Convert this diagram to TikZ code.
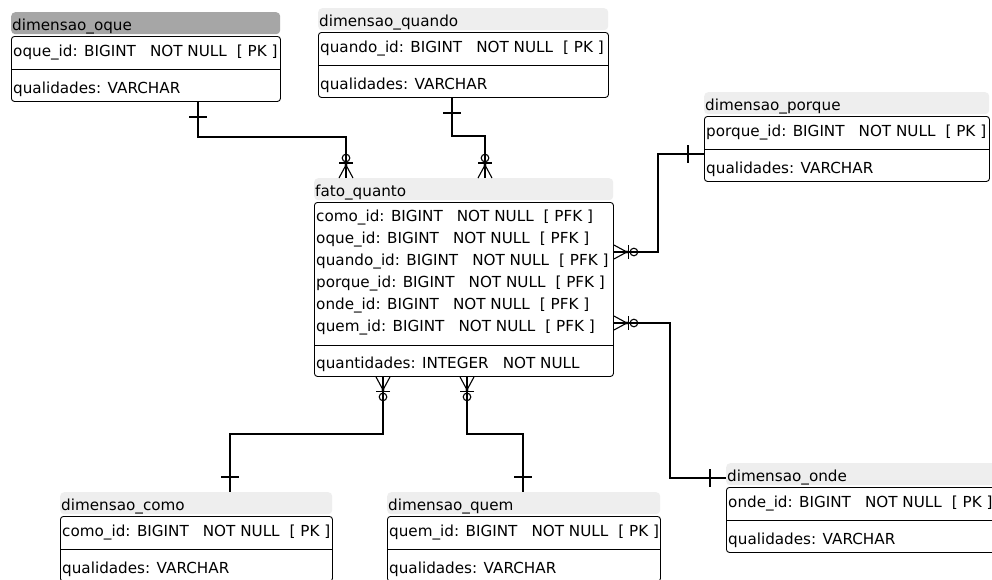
\documentclass[tikz,border=0pt]{standalone}
\usepackage{fontspec}
\setmainfont{DejaVu Sans}
\definecolor{hdrlight}{RGB}{238,238,238}
\definecolor{hdrdark}{RGB}{166,166,166}
\newcommand\rowfont{\fontsize{15.2}{18}\selectfont}
\newcommand\gapA{\hspace{14pt}}
\newcommand\gapB{\hspace{10pt}}
\tikzset{
  hdr/.style={anchor=north west, rounded corners=4pt, minimum height=22pt, inner sep=0pt},
  bodybox/.style={anchor=north west, draw=black, line width=0.9pt, rounded corners=3pt, inner sep=0pt},
  sepline/.style={draw=black, line width=0.9pt},
  txt/.style={anchor=base west, inner sep=0pt, font=\rowfont},
  conn/.style={draw=black, line width=1.1pt},
  tick/.style={draw=black, line width=1.1pt},
  pics/zmany/.style={code={
    \draw[conn] (0,-7) -- (13,0) -- (0,7);
    \fill (13,0) circle (1.6pt);
    \draw[conn] (15,-7) -- (15,7);
    \draw[conn] (20,0) circle (3.8pt);
  }},
}
\newcommand\dimtable[7]{%
  \node[hdr, fill=#7, minimum width=#4pt] (#1H) at (#2,#3) {};
  \node[txt] (#1T) at (#2+1,#3+18) {#5};
  \node[bodybox, minimum width=#4pt, minimum height=65pt] (#1B) at (#2,#3+24) {};
  \path[sepline] ([yshift=-33pt]#1B.north west) -- ([yshift=-33pt]#1B.north east);
  \node[txt] (#1K) at (#2+2,#3+44) {#6};
  \node[txt] (#1Q) at (#2+2,#3+81) {qualidades: VARCHAR};
}
\begin{document}
\begin{tikzpicture}[x=1pt,y=-1pt]
\useasboundingbox (0,0) rectangle (992,579);
\fill[white] (0,0) rectangle (992,579);

\dimtable{oque}{11}{12}{269}{dimensao\_oque}{oque\_id: BIGINT\gapA NOT NULL\gapB[ PK ]}{hdrdark}
\dimtable{quando}{318}{8}{290}{dimensao\_quando}{quando\_id: BIGINT\gapA NOT NULL\gapB[ PK ]}{hdrlight}
\dimtable{porque}{704}{92}{285}{dimensao\_porque}{porque\_id: BIGINT\gapA NOT NULL\gapB[ PK ]}{hdrlight}
\dimtable{onde}{726}{463}{270}{dimensao\_onde}{onde\_id: BIGINT\gapA NOT NULL\gapB[ PK ]}{hdrlight}
\dimtable{como}{60}{492}{272}{dimensao\_como}{como\_id: BIGINT\gapA NOT NULL\gapB[ PK ]}{hdrlight}
\dimtable{quem}{387}{492}{273}{dimensao\_quem}{quem\_id: BIGINT\gapA NOT NULL\gapB[ PK ]}{hdrlight}

% fact table
\node[hdr, fill=hdrlight, minimum width=299pt] (fatoH) at (314,178) {};
\node[txt] (fatoT) at (315,196) {fato\_quanto};
\node[bodybox, minimum width=299pt, minimum height=174pt] (fatoB) at (314,202) {};
\path[sepline] ([yshift=-143pt]fatoB.north west) -- ([yshift=-143pt]fatoB.north east);
\node[txt] (fr1) at (316,221) {como\_id: BIGINT\gapA NOT NULL\gapB[ PFK ]};
\node[txt] (fr2) at (316,243) {oque\_id: BIGINT\gapA NOT NULL\gapB[ PFK ]};
\node[txt] (fr3) at (316,265) {quando\_id: BIGINT\gapA NOT NULL\gapB[ PFK ]};
\node[txt] (fr4) at (316,287) {porque\_id: BIGINT\gapA NOT NULL\gapB[ PFK ]};
\node[txt] (fr5) at (316,309) {onde\_id: BIGINT\gapA NOT NULL\gapB[ PFK ]};
\node[txt] (fr6) at (316,331) {quem\_id: BIGINT\gapA NOT NULL\gapB[ PFK ]};
\node[txt] (fr7) at (316,368) {quantidades: INTEGER\gapA NOT NULL};

% connectors
\draw[conn] (oqueB.south -| 198,0) -- (198,137) -| (fatoH.north -| 346,0);
\draw[tick] (189,117) -- (207,117);
\pic[rotate=90] at (fatoH.north -| 346,0) {zmany};

\draw[conn] (quandoB.south -| 452,0) -- (452,136) -| (fatoH.north -| 485,0);
\draw[tick] (443,113) -- (461,113);
\pic[rotate=90] at (fatoH.north -| 485,0) {zmany};

\draw[conn] (fatoB.east |- 0,252) -- (658,252) |- (porqueB.west |- 0,154);
\draw[tick] (688,145) -- (688,163);
\pic at (fatoB.east |- 0,252) {zmany};

\draw[conn] (fatoB.east |- 0,323) -- (670,323) |- (ondeH.west |- 0,478);
\draw[tick] (710,469) -- (710,487);
\pic at (fatoB.east |- 0,323) {zmany};

\draw[conn] (fatoB.south -| 383,0) -- (383,434) -| (comoH.north -| 230,0);
\draw[tick] (221,477) -- (239,477);
\pic[rotate=-90] at (fatoB.south -| 383,0) {zmany};

\draw[conn] (fatoB.south -| 467,0) -- (467,434) -| (quemH.north -| 523,0);
\draw[tick] (514,477) -- (532,477);
\pic[rotate=-90] at (fatoB.south -| 467,0) {zmany};
\end{tikzpicture}
\end{document}
